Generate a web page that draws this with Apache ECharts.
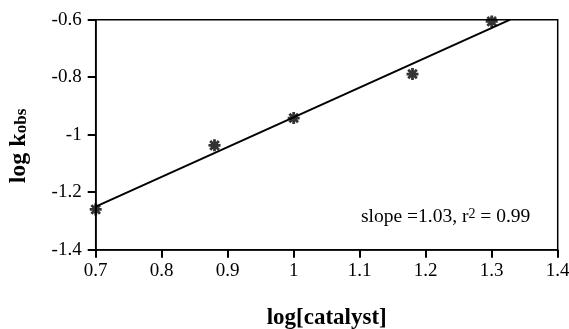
<!DOCTYPE html>
<html>
<head>
<meta charset="utf-8">
<script src="https://cdn.jsdelivr.net/npm/echarts@6/dist/echarts.min.js"></script>
<style>html,body{margin:0;padding:0;background:#fff}#c{width:569px;height:329px}</style>
</head>
<body>
<div id="c"></div>
<script>
const logCatalyst = [0.70, 0.88, 1.00, 1.18, 1.30];
const logKobs = [-1.26, -1.037, -0.942, -0.789, -0.606];
const fitX = [0.70, 1.328];
const fitY = [-1.25, -0.60];
const xTicks = ['0.7','0.8','0.9','1','1.1','1.2','1.3','1.4'];
const yTicks = ['-1.4','-1.2','-1','-0.8','-0.6'];

const font = 'Liberation Serif';
const chart = echarts.init(document.getElementById('c'), null, {renderer: 'canvas'});
const star = 'path://M0,-5L0,5M-5,0L5,0M-3.6,-3.6L3.6,3.6M-3.6,3.6L3.6,-3.6';
chart.setOption({
  animation: false,
  backgroundColor: '#fff',
  textStyle: {fontFamily: font},
  grid: {left: 95.7, top: 19.7, right: 11.3, bottom: 79.3, show: true, borderColor: '#000', borderWidth: 1.5,
    containLabel: false, outerBoundsMode: 'none'},
  xAxis: {
    type: 'value', min: 0.7, max: 1.4, interval: 0.1,
    name: 'log[catalyst]', nameLocation: 'middle', nameGap: 57,
    nameTextStyle: {fontFamily: font, fontWeight: 'bold', fontSize: 23, color: '#000', verticalAlign: 'top'},
    axisLine: {show: true, lineStyle: {color: '#000', width: 1.5}},
    axisTick: {show: true, inside: false, length: 8, lineStyle: {color: '#000', width: 2}},
    axisLabel: {color: '#000', fontFamily: font, fontSize: 19, margin: 12,
      formatter: v => xTicks[Math.round((v - 0.7) * 10)]},
    splitLine: {show: false}
  },
  yAxis: {
    type: 'value', min: -1.4, max: -0.6, interval: 0.2,
    axisLine: {show: true, lineStyle: {color: '#000', width: 1.5}},
    axisTick: {show: true, inside: false, length: 8, lineStyle: {color: '#000', width: 2}},
    axisLabel: {color: '#000', fontFamily: font, fontSize: 19, margin: 14,
      formatter: v => yTicks[Math.round((v + 1.4) * 5)]},
    splitLine: {show: false}
  },
  series: [
    {type: 'line', data: fitX.map((x, i) => [x, fitY[i]]), symbol: 'none', lineStyle: {color: '#000', width: 2}, z: 2},
    {type: 'scatter', data: logCatalyst.map((x, i) => [x, logKobs[i]]), symbol: star, symbolSize: 12,
      itemStyle: {color: 'rgba(0,0,0,0)', borderColor: '#000', borderWidth: 2.8}, z: 3}
  ],
  graphic: [{
    type: 'text', x: 19, y: 146, rotation: Math.PI / 2,
    style: {
      text: 'log k{s|obs}', fontFamily: font, fontWeight: 'bold', fontSize: 24, fill: '#000',
      align: 'center', verticalAlign: 'middle',
      rich: {s: {fontFamily: font, fontWeight: 'bold', fontSize: 17, fill: '#000', padding: [6,0,0,0]}}
    }
  }, {
    type: 'text', left: 361, top: 207,
    style: {
      text: 'slope =1.03, r{sup|2} = 0.99',
      fontFamily: font, fontSize: 19.5, fill: '#000',
      rich: {sup: {fontFamily: font, fontSize: 14, fill: '#000', padding: [0,0,6,0]}}
    }
  }]
});
</script>
</body>
</html>
